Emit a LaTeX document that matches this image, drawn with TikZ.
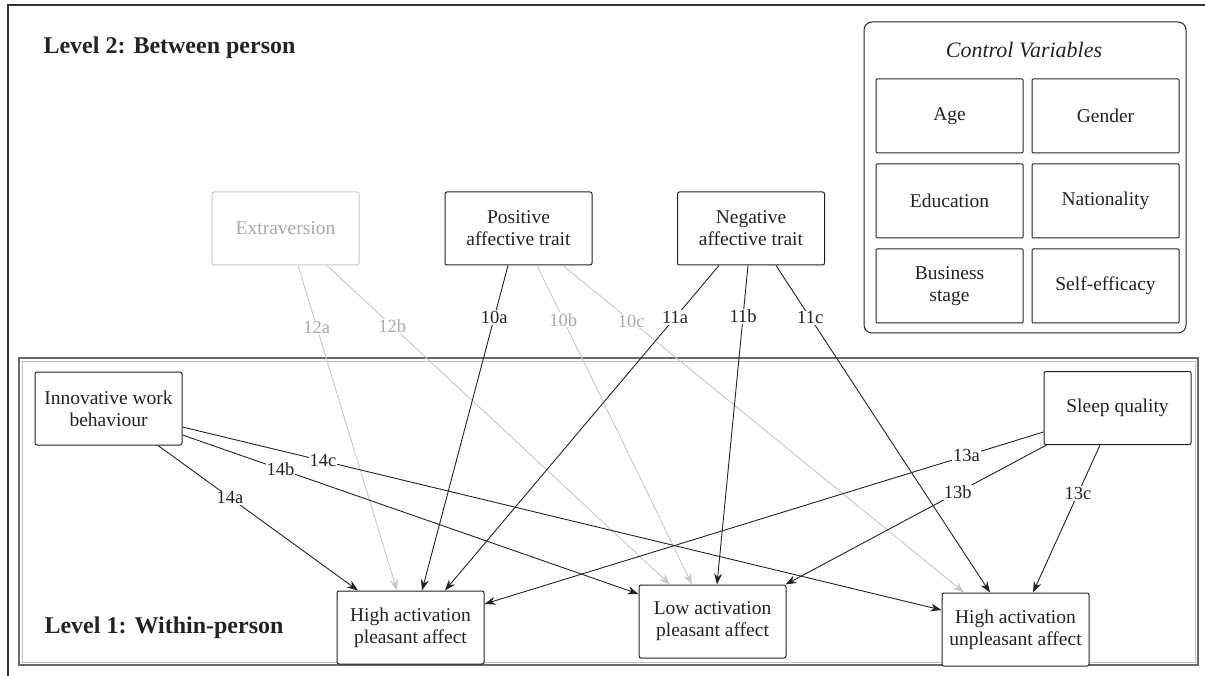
\documentclass[tikz,border=0pt]{standalone}
\usepackage{fontspec}
\setmainfont{Liberation Serif}
\usetikzlibrary{arrows.meta,positioning}
\definecolor{darkline}{RGB}{35,35,35}
\definecolor{faintline}{RGB}{200,200,200}
\definecolor{fainttext}{RGB}{170,170,170}
\definecolor{levelframe}{RGB}{105,105,105}

\begin{document}
\begin{tikzpicture}[
    x=1pt, y=-1pt,
    box/.style={rectangle, draw=darkline, line width=1pt, rounded corners=2pt, minimum width=147pt, minimum height=73pt, align=center, font=\fontsize{19.5}{22}\selectfont, text=darkline, fill=white},
    faintbox/.style={box, draw=faintline, text=fainttext},
    ctrl/.style={box, minimum height=74pt, rounded corners=1pt},
    link/.style={darkline, line width=0.9pt, -{Stealth[length=11pt, width=8pt]}},
    faintlink/.style={link, faintline},
    lab/.style={fill=white, inner sep=1pt, font=\fontsize{18.5}{20}\selectfont, text=darkline},
    faintlab/.style={lab, text=fainttext},
    heading/.style={font=\fontsize{24}{28}\selectfont\bfseries, text=darkline, anchor=west}
]
    \useasboundingbox (0,0) rectangle (1205,676);
    \draw[line width=2pt, black!80] (8,676) -- (8,5) -- (1205,5);

    % Level 1 frame
    \node[draw=levelframe, line width=1.3pt, minimum width=1179pt, minimum height=307pt, inner sep=0pt] (level1) at (608.5,511.5) {};
    \node[draw=black!25, line width=1pt, minimum width=1173pt, minimum height=301pt, inner sep=0pt] (level1in) at (608.5,511.5) {};

    \node[heading] (lvltwo) at (40,48) {Level 2: Between person};
    \node[heading] (lvlone) at (41,628) {Level 1: Within-person};

    % Control variables
    \node[draw=darkline, line width=1pt, rounded corners=8pt, minimum width=322pt, minimum height=311pt, inner sep=0pt] (ctrlframe) at (1025,177.5) {};
    \node[font=\fontsize{22}{26}\selectfont\itshape, text=darkline] (ctrltitle) at (1024,50) {Control Variables};
    \node[ctrl] (age) at (949.5,116) {Age};
    \node[ctrl, right=8pt of age] (gender) {Gender};
    \node[ctrl, below=10pt of age] (edu) {Education};
    \node[ctrl, right=8pt of edu] (nation) {Nationality};
    \node[ctrl, below=10pt of edu] (stage) {Business\\stage};
    \node[ctrl, right=8pt of stage] (selfeff) {Self-efficacy};

    % Level 2 traits
    \node[faintbox] (extra) at (285.5,228.5) {Extraversion};
    \node[box] (pat) at (518.5,228.5) {Positive\\affective trait};
    \node[box] (nat) at (751,228.5) {Negative\\affective trait};

    % Level 1 variables
    \node[box] (iwb) at (108.5,408.5) {Innovative work\\behaviour};
    \node[box] (sleep) at (1117.5,408) {Sleep quality};
    \node[box] (hapa) at (410.5,627.5) {High activation\\pleasant affect};
    \node[box] (lapa) at (712.5,621.5) {Low activation\\pleasant affect};
    \node[box] (haua) at (1015.5,629.5) {High activation\\unpleasant affect};

    \draw[faintlink] ([xshift=12.5pt]extra.south) -- node[faintlab, pos=.19] {12a} ([xshift=-13.5pt]hapa.north);
    \draw[faintlink] ([xshift=41.5pt]extra.south) -- node[faintlab, pos=.19] {12b} ([xshift=-42.5pt]lapa.north);
    \draw[faintlink] ([xshift=18.5pt]pat.south) -- node[faintlab, pos=.17] {10b} ([xshift=-20.5pt]lapa.north);
    \draw[faintlink] ([xshift=44.5pt]pat.south) -- node[faintlab, pos=.17] {10c} ([xshift=-51.5pt]haua.north);
    \draw[link] ([xshift=-10.5pt]pat.south) -- node[lab, pos=.16] {10a} ([xshift=11.5pt]hapa.north);
    \draw[link] ([xshift=-32pt]nat.south) -- node[lab, pos=.16] {11a} ([xshift=34.5pt]hapa.north);
    \draw[link] ([xshift=-3pt]nat.south) -- node[lab, pos=.16] {11b} ([xshift=4.5pt]lapa.north);
    \draw[link] ([xshift=25pt]nat.south) -- node[lab, pos=.16] {11c} ([xshift=-25.5pt]haua.north);

    \draw[link] ([xshift=49.5pt]iwb.south) -- node[lab, pos=.36] {14a} ([xshift=-52.5pt]hapa.north);
    \draw[link] ([yshift=-26.5pt]iwb.east) -- node[lab, pos=.215] {14b} ([yshift=27.5pt]lapa.west);
    \draw[link] ([yshift=-18.5pt]iwb.east) -- node[lab, pos=.185] {14c} ([yshift=19.5pt]haua.west);

    \draw[link] ([yshift=-24pt]sleep.west) -- node[lab, pos=.138] {13a} ([yshift=23.5pt]hapa.east);
    \draw[link] ([xshift=3pt]sleep.south west) -- node[lab, pos=.34] {13b} ([xshift=-1pt]lapa.north east);
    \draw[link] ([xshift=-17.5pt]sleep.south) -- node[lab, pos=.33] {13c} ([xshift=17.5pt]haua.north);
\end{tikzpicture}
\end{document}
